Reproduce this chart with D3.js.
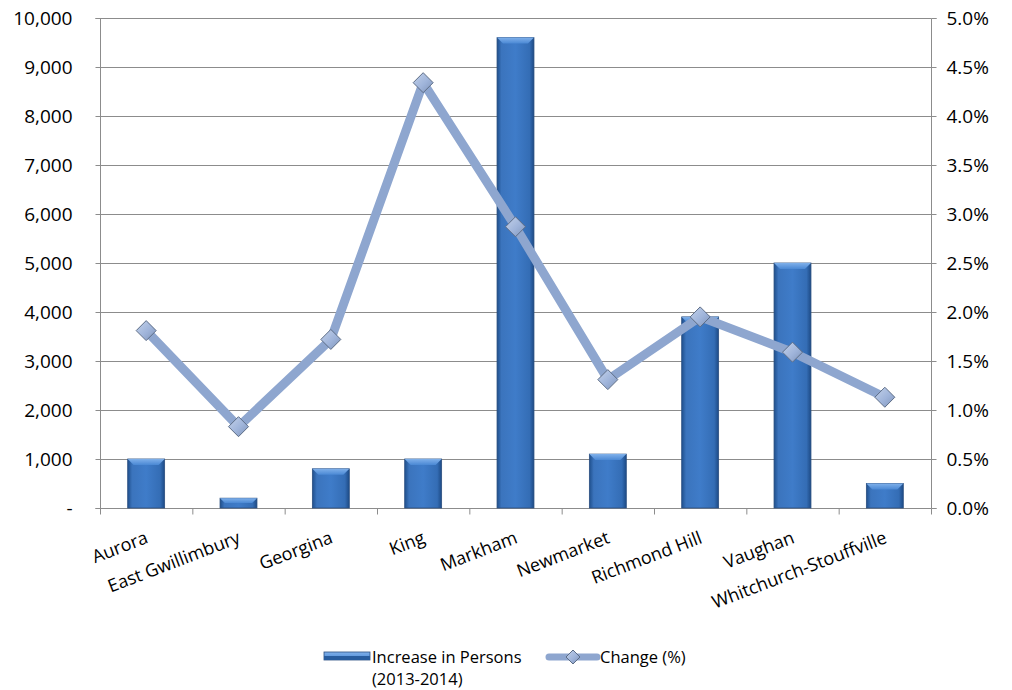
<!DOCTYPE html>
<html lang="en">
<head>
  <meta charset="UTF-8">
  <title>Population increase</title>
  <style>
    body { margin: 0; background: #fff; }
    text { font-family: 'Open Sans', 'Noto Sans', sans-serif; fill: #000; }
  </style>
</head>
<body>
  <svg id="svg" width="1012" height="690"></svg>

  <script src="https://d3js.org/d3.v7.min.js"></script>
  <script>
    const categories = ['Aurora', 'East Gwillimbury', 'Georgina', 'King', 'Markham',
      'Newmarket', 'Richmond Hill', 'Vaughan', 'Whitchurch-Stouffville']
    const increase = [1000, 200, 800, 1000, 9600, 1100, 3900, 5000, 500]
    const change = [1.81, 0.83, 1.72, 4.34, 2.87, 1.31, 1.95, 1.59, 1.13]
    const leftTicks = [0, 1000, 2000, 3000, 4000, 5000, 6000, 7000, 8000, 9000, 10000]
    const rightTicks = [0, 0.5, 1, 1.5, 2, 2.5, 3, 3.5, 4, 4.5, 5]

    const svg = d3.select('#svg')
    const pLeft = 100, pRight = 931, pTop = 18, pBottom = 508

    const x = d3.scaleBand().domain(categories).range([pLeft, pRight]).paddingInner(0.6).paddingOuter(0.3)
    const xc = d3.scaleBand().domain(categories).range([pLeft, pRight])
    const y = d3.scaleLinear().domain([0, 10000]).range([pBottom, pTop])
    const y2 = d3.scaleLinear().domain([0, 5]).range([pBottom, pTop])

    const defs = svg.append('defs')
    const barGrad = defs.append('linearGradient').attr('id', 'barGrad')
    barGrad.append('stop').attr('offset', '0%').attr('stop-color', '#1f4f8c')
    barGrad.append('stop').attr('offset', '12%').attr('stop-color', '#3b74bd')
    barGrad.append('stop').attr('offset', '50%').attr('stop-color', '#3f7cc9')
    barGrad.append('stop').attr('offset', '88%').attr('stop-color', '#346db5')
    barGrad.append('stop').attr('offset', '100%').attr('stop-color', '#1d4a85')
    const topGrad = defs.append('linearGradient').attr('id', 'topGrad').attr('x2', 0).attr('y2', 1)
    topGrad.append('stop').attr('offset', '0%').attr('stop-color', '#7fb0ea')
    topGrad.append('stop').attr('offset', '100%').attr('stop-color', '#4a88d4')
    const diaGrad = defs.append('linearGradient').attr('id', 'diaGrad').attr('x2', 1).attr('y2', 1)
    diaGrad.append('stop').attr('offset', '0%').attr('stop-color', '#c4d2ea')
    diaGrad.append('stop').attr('offset', '55%').attr('stop-color', '#9fb4da')
    diaGrad.append('stop').attr('offset', '100%').attr('stop-color', '#7e93b8')

    // gridlines
    svg.append('g').selectAll('line').data(leftTicks.slice(1)).enter().append('line')
      .attr('x1', pLeft).attr('x2', pRight)
      .attr('y1', d => y(d) + 0.5).attr('y2', d => y(d) + 0.5)
      .attr('stroke', '#8c8c8c').attr('stroke-width', 1)

    // left axis
    const la = svg.append('g').attr('transform', `translate(${pLeft + 0.5},0)`)
      .call(d3.axisLeft(y).tickValues(leftTicks).tickSize(5).tickPadding(23)
        .tickFormat(d => d === 0 ? '-' : d3.format(',')(d)))
    la.selectAll('text').style('font-size', '19px').attr('fill', '#000')
    la.selectAll('line, path').attr('stroke', '#8c8c8c')
    la.select('.domain').attr('d', `M-5,${pTop + 0.5}H0V${pBottom + 0.5}H-5`)

    // right axis
    const ra = svg.append('g').attr('transform', `translate(${pRight + 0.5},0)`)
      .call(d3.axisRight(y2).tickValues(rightTicks).tickSize(5).tickPadding(10)
        .tickFormat(d => d3.format('.1f')(d) + '%'))
    ra.selectAll('text').style('font-size', '19px').attr('fill', '#000')
    ra.selectAll('line, path').attr('stroke', '#8c8c8c')
    ra.select('.domain').attr('d', `M5,${pTop + 0.5}H0V${pBottom + 0.5}H5`)

    // bottom axis
    const ba = svg.append('g').attr('transform', `translate(0,${pBottom + 0.5})`)
    ba.append('line').attr('x1', pLeft).attr('x2', pRight).attr('stroke', '#8c8c8c')
    ba.selectAll('.tk').data(categories.concat(['end'])).enter().append('line')
      .attr('x1', (d, i) => i < categories.length ? xc(d) + 0.5 : pRight + 0.5)
      .attr('x2', (d, i) => i < categories.length ? xc(d) + 0.5 : pRight + 0.5)
      .attr('y1', 0).attr('y2', 6).attr('stroke', '#8c8c8c')
    ba.selectAll('text').data(categories).enter().append('text')
      .attr('transform', d => `translate(${xc(d) + xc.bandwidth() / 2 + 3},${34}) rotate(-21)`)
      .attr('text-anchor', 'end')
      .style('font-size', '18px')
      .text(d => d)

    // bars
    const bars = svg.append('g').selectAll('g').data(categories).enter().append('g')
    bars.append('rect')
      .attr('x', d => x(d)).attr('width', x.bandwidth())
      .attr('y', (d, i) => y(increase[i])).attr('height', (d, i) => y(0) - y(increase[i]))
      .attr('fill', 'url(#barGrad)').attr('stroke', '#2b4f80').attr('stroke-width', 0.8)
    bars.append('path')
      .attr('d', (d, i) => {
        const x0 = x(d), x1 = x(d) + x.bandwidth(), yt = y(increase[i])
        const b = Math.min(6, (y(0) - yt) / 2)
        return `M${x0},${yt}H${x1}L${x1 - b},${yt + b}H${x0 + b}Z`
      })
      .attr('fill', 'url(#topGrad)')

    // line
    const pts = categories.map((c, i) => [xc(c) + xc.bandwidth() / 2, y2(change[i])])
    svg.append('path')
      .attr('d', d3.line()(pts))
      .attr('fill', 'none').attr('stroke', '#8ea6cf').attr('stroke-width', 9)
      .attr('stroke-linejoin', 'round')
    const diamond = s => `M0,${-s}L${s},0L0,${s}L${-s},0Z`
    svg.append('g').selectAll('path').data(pts).enter().append('path')
      .attr('transform', d => `translate(${d[0]},${d[1]})`)
      .attr('d', diamond(10))
      .attr('fill', 'url(#diaGrad)').attr('stroke', '#5d6d86').attr('stroke-width', 1)

    // legend
    const lg = svg.append('g')
    lg.append('rect').attr('x', 324).attr('y', 652).attr('width', 46).attr('height', 8)
      .attr('fill', 'url(#topGrad)').attr('stroke', '#2b4f80').attr('stroke-width', 0.8)
    lg.append('rect').attr('x', 324).attr('y', 656).attr('width', 46).attr('height', 4)
      .attr('fill', '#285d9f')
    lg.append('text').attr('x', 372).attr('y', 663).style('font-size', '16.5px').text('Increase in Persons')
    lg.append('text').attr('x', 372).attr('y', 685).style('font-size', '16.5px').text('(2013-2014)')
    lg.append('line').attr('x1', 549).attr('x2', 597).attr('y1', 657).attr('y2', 657)
      .attr('stroke', '#8ea6cf').attr('stroke-width', 7).attr('stroke-linecap', 'round')
    lg.append('path').attr('transform', 'translate(573,657)').attr('d', diamond(7))
      .attr('fill', 'url(#diaGrad)').attr('stroke', '#5d6d86')
    lg.append('text').attr('x', 600).attr('y', 663).style('font-size', '16.5px').text('Change (%)')
  </script>
</body>
</html>
